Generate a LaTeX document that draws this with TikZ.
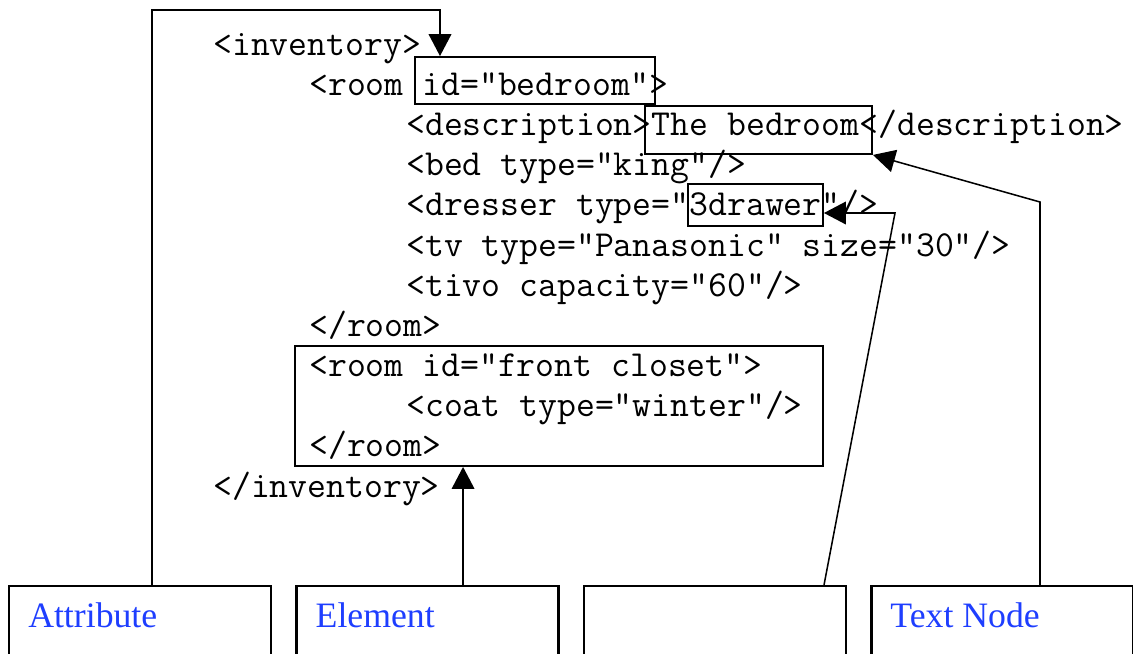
\documentclass[tikz,border=0pt]{standalone}
\usepackage{fontspec}
\newfontfamily\labelfont{Liberation Serif}
\usepackage{xcolor}
\usepackage{tikz}
\usetikzlibrary{positioning, arrows.meta}
\definecolor{labelblue}{RGB}{30,62,255}

\begin{document}
\begin{tikzpicture}[
    x=0.75pt, y=-0.75pt,
    code/.style={anchor=base west, inner sep=0pt, font=\fontsize{27.5}{30}\selectfont\ttfamily},
    hilite/.style={draw, line width=1.4pt, inner sep=0pt},
    catbox/.style={draw, line width=1.8pt, minimum width=196.5pt, minimum height=67.5pt, inner sep=0pt},
    catlabel/.style={anchor=base west, inner sep=0pt, text=labelblue, font=\labelfont\fontsize{26.8}{30}\selectfont},
    link/.style={line width=1.15pt, -{Triangle[length=16.5pt, width=17pt]}}
]
    \useasboundingbox (0,0) rectangle (1133,654);
    \clip (0,0) rectangle (1133,654);

    % xml listing
    \node[code] (l1)  at (213,55)  {<inventory>};
    \node[code] (l2)  at (309,95)  {<room id="bedroom">};
    \node[code] (l3)  at (406,135) {<description>The bedroom</description>};
    \node[code] (l4)  at (406,175) {<bed type="king"/>};
    \node[code] (l5)  at (406,215) {<dresser type="3drawer"/>};
    \node[code] (l6)  at (406,256) {<tv type="Panasonic" size="30"/>};
    \node[code] (l7)  at (406,296) {<tivo capacity="60"/>};
    \node[code] (l8)  at (309,336) {</room>};
    \node[code] (l9)  at (309,376) {<room id="front closet">};
    \node[code] (l10) at (406,416) {<coat type="winter"/>};
    \node[code] (l11) at (309,456) {</room>};
    \node[code] (l12) at (213,497) {</inventory>};

    % boxes round the marked parts
    \node[hilite, minimum width=180pt, minimum height=35.25pt] (idbox) at (535,80.5) {};
    \node[hilite, minimum width=170.25pt, minimum height=36pt] (tbox) at (758.5,130) {};
    \node[hilite, minimum width=101.25pt, minimum height=31.5pt] (drawerbox) at (755.5,205) {};
    \node[hilite, minimum width=396pt, minimum height=90pt] (closetbox) at (559,406) {};

    % category boxes along the bottom
    \node[catbox, anchor=north west] (attrbox) at (8,585) {};
    \node[catbox, right=17.25pt of attrbox] (elembox) {};
    \node[catbox, right=17.25pt of elembox] (blankbox) {};
    \node[catbox, right=17.25pt of blankbox] (textbox) {};

    \node[catlabel] (attrlabel) at ([shift={(15pt,-31.5pt)}]attrbox.north west) {Attribute};
    \node[catlabel] (elemlabel) at ([shift={(15pt,-31.5pt)}]elembox.north west) {Element};
    \node[catlabel] (textlabel) at ([shift={(15pt,-31.5pt)}]textbox.north west) {Text Node};

    % connectors
    \coordinate (attrbend) at (152,10);
    \coordinate (idbend) at (440,10);
    \coordinate (drawerbend) at (895,213);
    \coordinate (textbend) at (1040,202);
    \draw[link] (attrbox.north -| attrbend) -- (attrbend) -- (idbend) -- (idbox.north -| idbend);
    \draw[link] ([xshift=26.6pt]elembox.north) -- ([xshift=26.6pt]elembox.north |- closetbox.south);
    \draw[link] ([xshift=81.75pt]blankbox.north) -- (drawerbend) -- (drawerbox.east |- drawerbend);
    \draw[link] (textbox.north -| textbend) -- (textbend) -- (tbox.south east);
\end{tikzpicture}
\end{document}
